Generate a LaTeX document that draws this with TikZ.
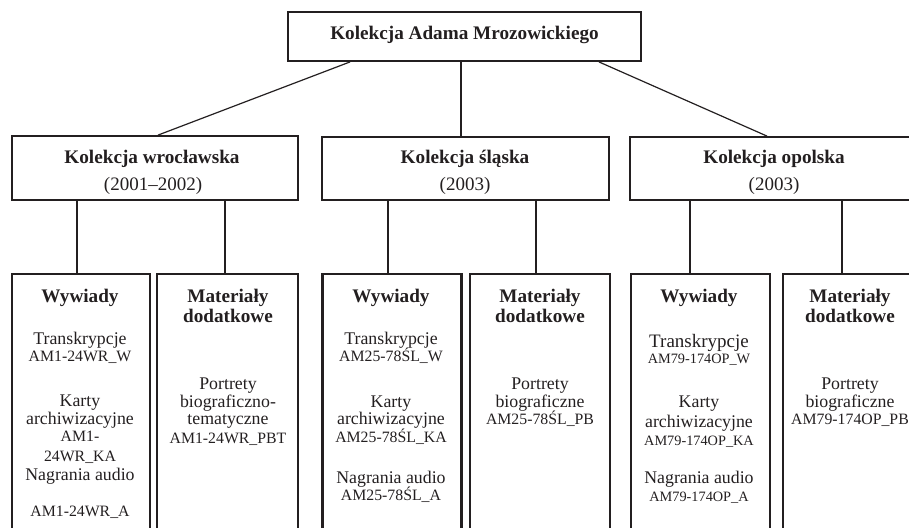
\documentclass[tikz,border=0pt]{standalone}
\usepackage{fontspec}
\setmainfont{Liberation Serif}
\usetikzlibrary{calc}
\definecolor{ink}{RGB}{35,31,32}
\tikzset{
  topbox/.style={draw=ink, line width=1.8pt, rectangle, inner sep=0pt},
  subbox/.style={draw=ink, line width=2.3pt, rectangle, inner sep=0pt},
  link/.style={draw=ink, line width=1.2pt},
  txt/.style={anchor=base, inner sep=0pt, text=ink},
  ttl/.style={txt, font=\fontsize{19.2}{20}\selectfont\bfseries},
  yr/.style={txt, font=\fontsize{19}{20}\selectfont},
  lbl/.style={txt, font=\fontsize{17.8}{18}\selectfont},
  lblb/.style={txt, font=\fontsize{19}{19}\selectfont},
  code/.style={txt, font=\fontsize{15.8}{17}\selectfont},
  codes/.style={txt, font=\fontsize{14.3}{16}\selectfont},
}
\begin{document}
\begin{tikzpicture}[x=1pt, y=-1pt]
\useasboundingbox (0,0) rectangle (909,527);
\clip (0,0) rectangle (909,527);
% level 1
\node[topbox, minimum width=353pt, minimum height=49pt] (top) at (464.5,36.5) {};
\node[ttl] (toptxt) at (464.5,40) {Kolekcja Adama Mrozowickiego};
% level 2
\node[topbox, minimum width=286pt, minimum height=64pt] (wro) at (155,168) {};
\node[topbox, minimum width=287pt, minimum height=63pt] (sla) at (465.5,168.5) {};
\node[topbox, minimum width=288pt, minimum height=63pt] (opo) at (774,168.5) {};
\node[ttl] (wrot) at (152,163) {Kolekcja wrocławska};
\node[yr]  (wroy) at (153,190) {(2001–2002)};
\node[ttl] (slat) at (465,163) {Kolekcja śląska};
\node[yr]  (slay) at (465,190) {(2003)};
\node[ttl] (opot) at (774,163) {Kolekcja opolska};
\node[yr]  (opoy) at (774,190) {(2003)};
% level 3
\node[subbox, minimum width=138pt, minimum height=271pt] (b1) at (81,409.5) {};
\node[subbox, minimum width=141pt, minimum height=271pt] (b2) at (227.5,409.5) {};
\node[subbox, minimum width=139pt, minimum height=271pt] (b3) at (392,409.5) {};
\node[subbox, minimum width=140pt, minimum height=271pt] (b4) at (540,409.5) {};
\node[subbox, minimum width=139pt, minimum height=271pt] (b5) at (700.5,409.5) {};
\node[subbox, minimum width=139pt, minimum height=271pt] (b6) at (852.5,409.5) {};
% connectors
\draw[link] ($(top.south west)+(63,0)$) -- ($(wro.north)+(3,0)$);
\draw[link] ($(top.south)+(-3.5,0)$) -- ($(sla.north)+(-4.5,0)$);
\draw[link] ($(top.south east)+(-43,0)$) -- ($(opo.north)+(-7,0)$);
\draw[link] ([xshift=-4pt]b1.north) -- ([xshift=-4pt]b1.north |- wro.south);
\draw[link] ([xshift=-2.5pt]b2.north) -- ([xshift=-2.5pt]b2.north |- wro.south);
\draw[link] ([xshift=-4pt]b3.north) -- ([xshift=-4pt]b3.north |- sla.south);
\draw[link] ([xshift=-4pt]b4.north) -- ([xshift=-4pt]b4.north |- sla.south);
\draw[link] ([xshift=-10.5pt]b5.north) -- ([xshift=-10.5pt]b5.north |- opo.south);
\draw[link] ([xshift=-10.5pt]b6.north) -- ([xshift=-10.5pt]b6.north |- opo.south);
% box 1
\node[ttl]  (b1a) at (80,302) {Wywiady};
\node[lbl]  (b1b) at (80,344) {Transkrypcje};
\node[code] (b1c) at (80,361) {AM1-24WR\_W};
\node[lbl]  (b1d) at (80,406) {Karty};
\node[lbl]  (b1e) at (80,424) {archiwizacyjne};
\node[code] (b1f) at (80,441) {AM1-};
\node[code] (b1g) at (80,461) {24WR\_KA};
\node[lbl]  (b1h) at (80,480) {Nagrania audio};
\node[code] (b1i) at (80,516) {AM1-24WR\_A};
% box 2
\node[ttl]  (b2a) at (228,302) {Materiały};
\node[ttl]  (b2b) at (228,322) {dodatkowe};
\node[lbl]  (b2c) at (228,389) {Portrety};
\node[lbl]  (b2d) at (228,407) {biograficzno-};
\node[lbl]  (b2e) at (228,424) {tematyczne};
\node[code] (b2f) at (228,443) {AM1-24WR\_PBT};
% box 3
\node[ttl]  (b3a) at (391,302) {Wywiady};
\node[lbl]  (b3b) at (391,344) {Transkrypcje};
\node[code] (b3c) at (391,361) {AM25-78ŚL\_W};
\node[lbl]  (b3d) at (391,407) {Karty};
\node[lbl]  (b3e) at (391,424) {archiwizacyjne};
\node[code] (b3f) at (391,442) {AM25-78ŚL\_KA};
\node[lbl]  (b3g) at (391,483) {Nagrania audio};
\node[code] (b3h) at (391,500) {AM25-78ŚL\_A};
% box 4
\node[ttl]  (b4a) at (540,302) {Materiały};
\node[ttl]  (b4b) at (540,322) {dodatkowe};
\node[lbl]  (b4c) at (540,389) {Portrety};
\node[lbl]  (b4d) at (540,407) {biograficzne};
\node[code] (b4e) at (540,424) {AM25-78ŚL\_PB};
% box 5
\node[ttl]   (b5a) at (699,302) {Wywiady};
\node[lblb]  (b5b) at (699,347) {Transkrypcje};
\node[codes] (b5c) at (699,363) {AM79-174OP\_W};
\node[lbl]   (b5d) at (699,407) {Karty};
\node[lbl]   (b5e) at (699,427) {archiwizacyjne};
\node[codes] (b5f) at (699,445) {AM79-174OP\_KA};
\node[lbl]   (b5g) at (699,483) {Nagrania audio};
\node[codes] (b5h) at (699,501) {AM79-174OP\_A};
% box 6
\node[ttl]  (b6a) at (850,302) {Materiały};
\node[ttl]  (b6b) at (850,322) {dodatkowe};
\node[lbl]  (b6c) at (850,389) {Portrety};
\node[lbl]  (b6d) at (850,407) {biograficzne};
\node[code] (b6e) at (850,424) {AM79-174OP\_PB};
\end{tikzpicture}
\end{document}
